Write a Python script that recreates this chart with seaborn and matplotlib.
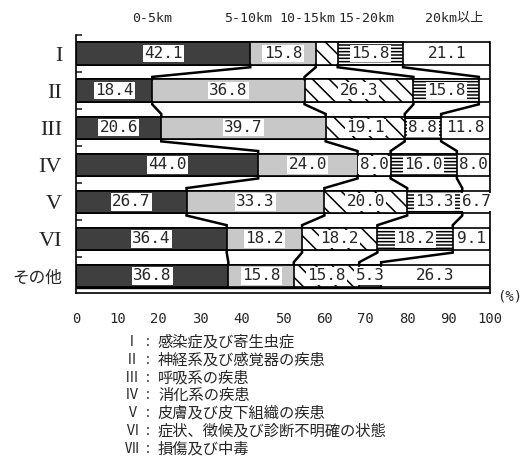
import matplotlib
matplotlib.use("Agg")
import matplotlib.pyplot as plt
import seaborn as sns
import pandas as pd
import numpy as np

# Data (percent of patients by distance band)
categories = ["I", "II", "III", "IV", "V", "VI", "その他"]
bands = ["0-5km", "5-10km", "10-15km", "15-20km", "20km以上"]
km_0_5 = [42.1, 18.4, 20.6, 44.0, 26.7, 36.4, 36.8]
km_5_10 = [15.8, 36.8, 39.7, 24.0, 33.3, 18.2, 15.8]
km_10_15 = [5.3, 26.3, 19.1, 8.0, 20.0, 18.2, 15.8]
km_15_20 = [15.8, 15.8, 8.8, 16.0, 13.3, 18.2, 5.3]
km_20_plus = [21.1, 2.6, 11.8, 8.0, 6.7, 9.1, 26.3]
# segments printed without a number in the original
unlabeled = {("I", "10-15km"), ("II", "20km以上")}
x_ticks = [0, 10, 20, 30, 40, 50, 60, 70, 80, 90, 100]
legend_roman = ["Ⅰ", "Ⅱ", "Ⅲ", "Ⅳ", "Ⅴ", "Ⅵ", "Ⅶ"]
legend_text = ["感染症及び寄生虫症", "神経系及び感覚器の疾患", "呼吸系の疾患", "消化系の疾患",
               "皮膚及び皮下組織の疾患", "症状、徴候及び診断不明確の状態", "損傷及び中毒"]

df = pd.DataFrame({"cat": categories, "0-5km": km_0_5, "5-10km": km_5_10,
                   "10-15km": km_10_15, "15-20km": km_15_20, "20km以上": km_20_plus})
cum = df[bands].cumsum(axis=1)

sns.set_style("white")
plt.rcParams['font.family'] = ['DejaVu Sans', 'Noto Sans CJK JP']
plt.rcParams['hatch.linewidth'] = 1.1

styles = {
    "0-5km": dict(color="#3f3f3f", hatch=None),
    "5-10km": dict(color="#c8c8c8", hatch=None),
    "10-15km": dict(color="white", hatch="\\\\"),
    "15-20km": dict(color="white", hatch="-----"),
    "20km以上": dict(color="white", hatch=None),
}

fig = plt.figure(figsize=(5.25, 4.59), dpi=100)
ax = fig.add_axes([76 / 525, 1 - 293 / 459, 414 / 525, 258 / 459])

bar_h = 0.6
# stacked bars: draw cumulative totals from the widest down
for band in reversed(bands):
    st = styles[band]
    sns.barplot(x=cum[band], y=df["cat"], orient="h", color=st["color"], saturation=1,
                hatch=st["hatch"], edgecolor="black", linewidth=1.2, width=bar_h,
                errorbar=None, ax=ax)

# connecting lines between neighbouring bars
stub = 0.07
for i in range(len(categories) - 1):
    for band in bands[:-1]:
        x1 = cum[band].iloc[i]
        x2 = cum[band].iloc[i + 1]
        y1 = i + bar_h / 2
        y2 = i + 1 - bar_h / 2
        ax.plot([x1, x1, x2, x2], [y1, y1 + stub, y2 - stub, y2], color="black", lw=1.8,
                solid_joinstyle="miter", zorder=5)

# value labels
for i, cat in enumerate(categories):
    left = 0
    for band in bands:
        v = df[band].iloc[i]
        if (cat, band) not in unlabeled:
            ax.text(left + v / 2, i, f"{v:.1f}", ha="center", va="center",
                    family="DejaVu Sans Mono", fontsize=11.5, zorder=6,
                    bbox=dict(boxstyle="square,pad=0.08", fc="white", ec="none"))
        left += v

ax.set_xlim(0, 100)
ax.set_ylim(6.46, -0.5)
ax.set_xlabel("")
ax.set_ylabel("")

ax.set_xticks(x_ticks)
ax.set_xticklabels([str(t) for t in x_ticks], family="DejaVu Sans Mono", fontsize=10)
ax.tick_params(axis="x", direction="in", length=3.8, width=1, pad=14, color="black")
ax.hlines(6.325, 0, 100, color="black", lw=1)

ax.set_yticks(range(len(categories)))
ax.set_yticks(np.arange(-0.5, len(categories) - 1, 1.0), minor=True)
ax.tick_params(axis="y", which="major", length=0, pad=10)
ax.tick_params(axis="y", which="minor", direction="in", length=4.5, width=1.2, left=True)
ax.set_yticklabels(categories)
for lab in ax.get_yticklabels():
    if lab.get_text() == "その他":
        lab.set_fontfamily("Noto Sans CJK JP")
        lab.set_fontsize(12)
    else:
        lab.set_fontfamily("Liberation Serif")
        lab.set_fontsize(16)

for side in ["left", "bottom", "right"]:
    ax.spines[side].set_visible(True)
    ax.spines[side].set_color("black")
    ax.spines[side].set_linewidth(1.2)
ax.spines["top"].set_visible(False)
ax.spines["right"].set_bounds(-bar_h / 2, 6.46)
ax.grid(False)

# band headers
header_x = [18.4, 41.6, 56.0, 70.2, 91.3]
for hx, band in zip(header_x, bands):
    ax.text(hx, -0.95, band, ha="center", va="center", fontsize=9.5,
            family=["DejaVu Sans Mono", "Noto Sans CJK JP"])

fig.text(510 / 525, 1 - 296 / 459, "(%)", ha="center", va="center", fontsize=10,
         family="DejaVu Sans Mono")

# legend of disease groups
for k, (rn, txt) in enumerate(zip(legend_roman, legend_text)):
    y = 1 - (342 + k * 17.8) / 459
    fig.text(139 / 525, y, rn, ha="right", va="center", fontsize=10, family="Noto Sans CJK JP")
    fig.text(148 / 525, y, ":", ha="center", va="center", fontsize=10, family="Noto Sans CJK JP")
    fig.text(158 / 525, y, txt, ha="left", va="center", fontsize=11, family="Noto Sans CJK JP")

fig.savefig("out.png", dpi=100)
